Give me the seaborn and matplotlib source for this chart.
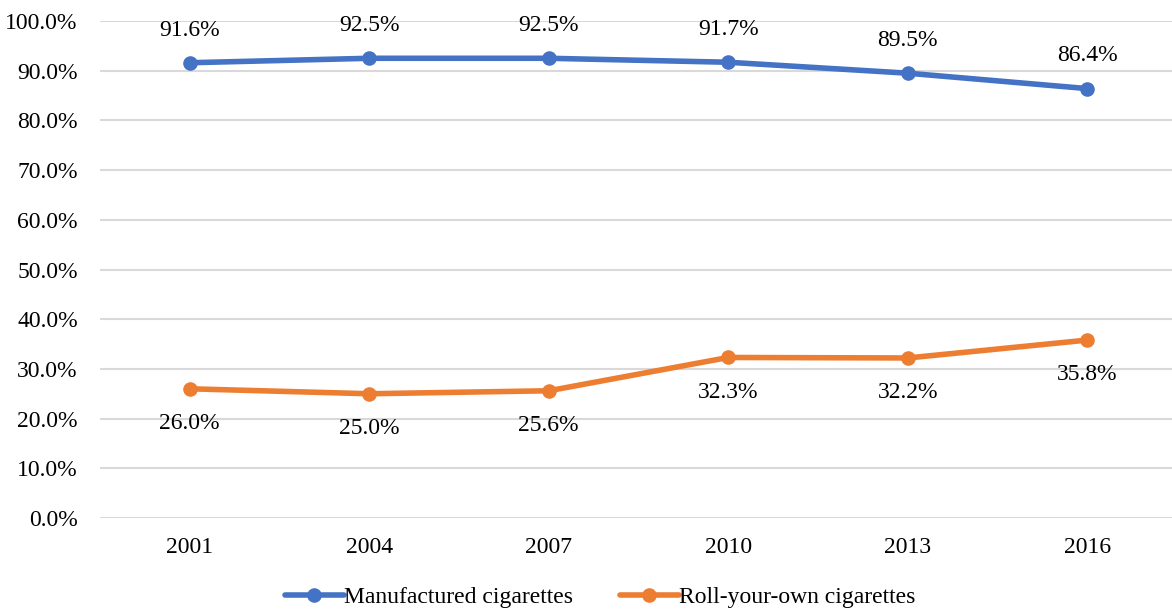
import matplotlib
matplotlib.use("Agg")
import matplotlib.pyplot as plt
import seaborn as sns
import pandas as pd

years = ["2001", "2004", "2007", "2010", "2013", "2016"]
manufactured = [91.6, 92.5, 92.5, 91.7, 89.5, 86.4]
roll_your_own = [26.0, 25.0, 25.6, 32.3, 32.2, 35.8]
series_names = ["Manufactured cigarettes", "Roll-your-own cigarettes"]
colors = ["#4472C4", "#ED7D31"]

sns.set_theme(style="white")
plt.rcParams["font.family"] = ["Liberation Serif", "DejaVu Serif"]
plt.rcParams["text.color"] = "black"
plt.rcParams["xtick.color"] = "black"
plt.rcParams["ytick.color"] = "black"

FS = 17

df = pd.DataFrame({
    "year": years * 2,
    "value": manufactured + roll_your_own,
    "series": [series_names[0]] * len(years) + [series_names[1]] * len(years),
})
df["x"] = list(range(len(years))) * 2

fig = plt.figure(figsize=(11.72, 6.09), dpi=100)
ax = fig.add_axes([100 / 1172, 91 / 609, 1077 / 1172, 497 / 609])

sns.lineplot(data=df, x="x", y="value", hue="series", palette=colors,
             marker="o", markersize=10.5, linewidth=4, markeredgewidth=0,
             ax=ax, legend=True)

ax.set_xlim(-0.5, len(years) - 0.5)
ax.set_ylim(0, 100)
ax.set_yticks(range(0, 101, 10))
ax.set_yticklabels([f"{v:.1f}%" for v in range(0, 101, 10)], fontsize=FS)
ax.set_xticks(range(len(years)))
ax.set_xticklabels(years, fontsize=FS)
ax.tick_params(axis="x", length=0, pad=14)
ax.tick_params(axis="y", length=0, pad=16)
ax.grid(axis="y", color="#D9D9D9", linewidth=1.5)
ax.set_axisbelow(True)
for s in ax.spines.values():
    s.set_visible(False)
ax.set_xlabel("")
ax.set_ylabel("")

for i, v in enumerate(manufactured):
    ax.annotate(f"{v:.1f}%", (i, v), xytext=(0, 23.5), textcoords="offset points",
                ha="center", va="center", fontsize=FS)
for i, v in enumerate(roll_your_own):
    ax.annotate(f"{v:.1f}%", (i, v), xytext=(0, -25), textcoords="offset points",
                ha="center", va="center", fontsize=FS)

handles, labels = ax.get_legend_handles_labels()
ax.legend(handles, labels, loc="center", bbox_to_anchor=(600 / 1172, 12 / 609),
          bbox_transform=fig.transFigure, ncol=2, frameon=False, fontsize=FS,
          handlelength=2.5, columnspacing=2.0, handletextpad=0.0)

fig.savefig("out.png", dpi=100)
